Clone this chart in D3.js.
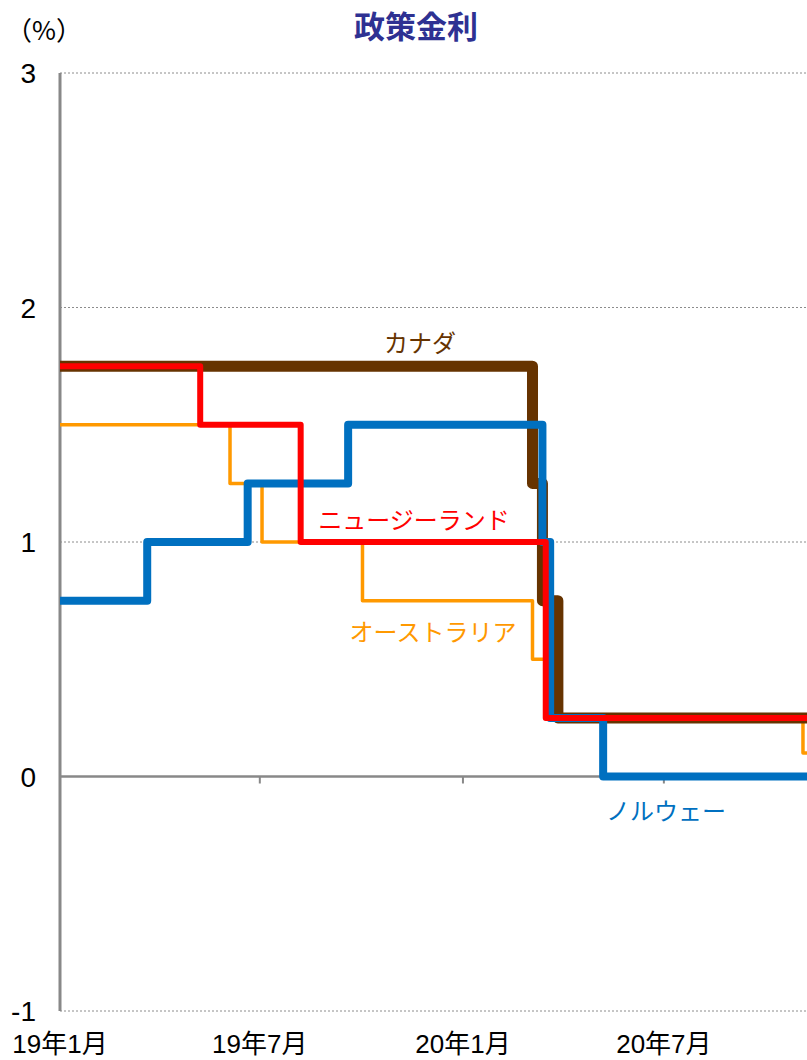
<!DOCTYPE html>
<html>
<head>
<meta charset="utf-8">
<script src="https://cdn.jsdelivr.net/npm/d3@7"></script>
<style>
  body { margin: 0; background: #fff; overflow: hidden; }
  text { font-family: "Liberation Sans", Arial, "Noto Sans CJK JP", sans-serif; }
  .jp { font-family: "Noto Sans CJK JP", sans-serif; }
</style>
</head>
<body>
<script>
// policy rates, change dates and the level from that date on
var canadaDates = ["2019-01-01", "2020-03-04", "2020-03-13", "2020-03-27", "2020-12-31"];
var canadaRates = [1.75, 1.25, 0.75, 0.25, 0.25];

var nzDates = ["2019-01-01", "2019-05-08", "2019-08-07", "2020-03-16", "2020-12-31"];
var nzRates = [1.75, 1.50, 1.00, 0.25, 0.25];

var ausDates = ["2019-01-01", "2019-06-04", "2019-07-03", "2019-10-02", "2020-03-04", "2020-03-20", "2020-11-04", "2020-12-31"];
var ausRates = [1.50, 1.25, 1.00, 0.75, 0.50, 0.25, 0.10, 0.10];

var norDates = ["2019-01-01", "2019-03-21", "2019-06-20", "2019-09-19", "2020-03-13", "2020-03-20", "2020-05-07", "2020-12-31"];
var norRates = [0.75, 1.00, 1.25, 1.50, 1.00, 0.25, 0.00, 0.00];

var yTicks = [-1, 0, 1, 2, 3];
var xTickDates = ["2019-01-01", "2019-07-01", "2020-01-01", "2020-07-01"];
var xTickLabels = ["19年1月", "19年7月", "20年1月", "20年7月"];

var W = 807, H = 1060;
var parse = d3.timeParse("%Y-%m-%d");

var svg = d3.select("body").append("svg")
    .attr("width", W)
    .attr("height", H);

var x = d3.scaleTime()
    .domain([parse("2019-01-01"), parse("2021-01-01")])
    .range([60, 867]);

var y = d3.scaleLinear()
    .domain([-1, 3])
    .range([1011, 73]);

// dotted gridlines
svg.selectAll(".grid")
    .data(yTicks.filter(function(d) { return d !== 0; }))
    .enter().append("line")
    .attr("x1", 60).attr("x2", W)
    .attr("y1", function(d) { return y(d); })
    .attr("y2", function(d) { return y(d); })
    .attr("stroke", "#8c8c8c")
    .attr("stroke-width", 1)
    .attr("stroke-dasharray", "2,2");

// y labels
svg.selectAll(".ylab")
    .data(yTicks)
    .enter().append("text")
    .attr("x", 36)
    .attr("y", function(d) { return y(d) + 10; })
    .attr("text-anchor", "end")
    .attr("font-size", 28)
    .attr("fill", "#000")
    .text(function(d) { return d; });

// zero axis + ticks
svg.append("line")
    .attr("x1", 60).attr("x2", W)
    .attr("y1", y(0)).attr("y2", y(0))
    .attr("stroke", "#888").attr("stroke-width", 2.5);

svg.selectAll(".xtick")
    .data(xTickDates)
    .enter().append("line")
    .attr("x1", function(d) { return x(parse(d)); })
    .attr("x2", function(d) { return x(parse(d)); })
    .attr("y1", y(0)).attr("y2", y(0) + 7)
    .attr("stroke", "#888").attr("stroke-width", 2);

svg.append("line")
    .attr("x1", 60).attr("x2", 60)
    .attr("y1", y(3)).attr("y2", y(-1))
    .attr("stroke", "#888").attr("stroke-width", 3);

// x labels
svg.selectAll(".xlab")
    .data(xTickDates)
    .enter().append("text")
    .attr("y", 1053)
    .attr("font-size", 26)
    .attr("fill", "#000")
    .text(function(d, i) { return xTickLabels[i]; })
    .attr("x", function(d) {
        var w = this.getComputedTextLength();
        return Math.max(x(parse(d)) - w / 2, 0);
    });

var line = d3.line()
    .curve(d3.curveStepAfter)
    .x(function(d) { return x(d.date); })
    .y(function(d) { return y(d.rate); });

function series(dates, rates) {
    return dates.map(function(d, i) { return { date: parse(d), rate: rates[i] }; });
}

var lines = [
    { data: series(ausDates, ausRates), color: "#FF9900", width: 3.5 },
    { data: series(canadaDates, canadaRates), color: "#663300", width: 11 },
    { data: series(norDates, norRates), color: "#0070C0", width: 8 },
    { data: series(nzDates, nzRates), color: "#FF0000", width: 6 }
];

svg.selectAll(".series")
    .data(lines)
    .enter().append("path")
    .attr("fill", "none")
    .attr("stroke", function(d) { return d.color; })
    .attr("stroke-width", function(d) { return d.width; })
    .attr("stroke-linejoin", "round")
    .attr("d", function(d) { return line(d.data); });

// series labels
var labels = [
    { text: "カナダ", x: 420, y: 352, color: "#663300" },
    { text: "ニュージーランド", x: 414, y: 529, color: "#FF0000" },
    { text: "オーストラリア", x: 433, y: 641, color: "#FF9900" },
    { text: "ノルウェー", x: 666, y: 820, color: "#0070C0" }
];

svg.selectAll(".slab")
    .data(labels)
    .enter().append("text")
    .attr("class", "jp")
    .attr("x", function(d) { return d.x; })
    .attr("y", function(d) { return d.y; })
    .attr("text-anchor", "middle")
    .attr("font-size", 24)
    .attr("fill", function(d) { return d.color; })
    .text(function(d) { return d.text; });

// title and unit
svg.append("text")
    .attr("class", "jp")
    .attr("x", 416).attr("y", 38)
    .attr("text-anchor", "middle")
    .attr("font-size", 31)
    .attr("font-weight", "bold")
    .attr("fill", "#2E3192")
    .text("政策金利");

svg.append("text")
    .attr("class", "jp")
    .attr("x", 6).attr("y", 40)
    .attr("font-size", 26)
    .attr("fill", "#000")
    .text("（%）");
</script>
</body>
</html>
